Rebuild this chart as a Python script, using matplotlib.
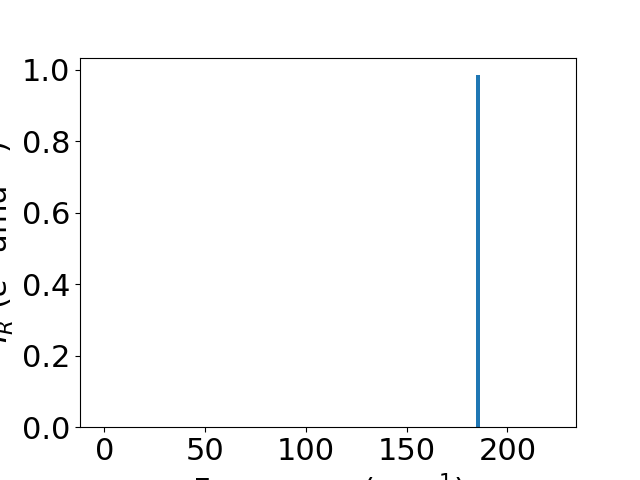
import matplotlib
matplotlib.use('Agg')
import matplotlib.pyplot as plt

# Raman-type spectrum: frequencies (cm^-1) and intensities
frequencies = [0.0, 185.3, 222.0]
intensities = [0.0, 0.985, 0.0]

plt.rcParams['font.size'] = 22

fig, ax = plt.subplots(figsize=(6.4, 4.8), dpi=100)
ax.bar(frequencies, intensities, width=1.8, color='tab:blue')
ax.set_xlabel('Frequency (cm$^{-1}$)')
ax.set_ylabel('$I_R$ ($e^2$ amu$^{-1}$)')
fig.savefig('out.png')
